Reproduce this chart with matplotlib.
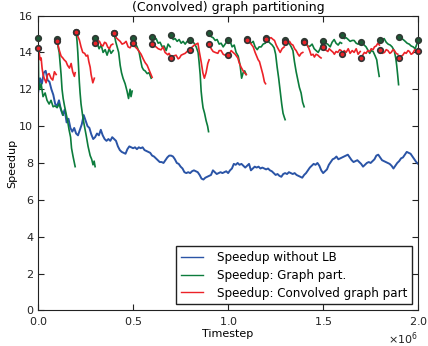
import numpy as np
import matplotlib
matplotlib.use("Agg")
import matplotlib.pyplot as plt

# timesteps in units of 1e6
lb_events = [0.0, 0.1, 0.2, 0.3, 0.4, 0.5, 0.6, 0.7, 0.8, 0.9, 1.0,
             1.1, 1.2, 1.3, 1.4, 1.5, 1.6, 1.7, 1.8, 1.9, 2.0]

# speedup without LB, sampled every 0.01e6 timesteps
no_lb_step = 0.01
no_lb = [11.8, 12.6, 12.3, 12.9, 13.0, 12.5, 12.4, 12.0, 11.7, 11.2,
         11.1, 11.4, 10.9, 10.6, 10.9, 10.2, 10.4, 9.9, 9.7, 9.9,
         9.6, 9.5, 9.8, 10.1, 10.6, 10.3, 10.0, 9.9, 9.55, 9.3,
         9.4, 9.6, 9.5, 9.8, 9.5, 9.3, 9.2, 9.3, 9.2, 9.4,
         9.3, 9.2, 8.9, 8.7, 8.6, 8.55, 8.5, 8.75, 8.9, 8.85,
         8.8, 8.85, 8.75, 8.85, 8.8, 8.85, 8.7, 8.65, 8.6, 8.55,
         8.4, 8.35, 8.25, 8.15, 8.05, 8.05, 8.0, 8.15, 8.3, 8.4,
         8.4, 8.35, 8.2, 8.0, 7.95, 7.8, 7.7, 7.5, 7.45, 7.5,
         7.45, 7.55, 7.6, 7.55, 7.5, 7.35, 7.15, 7.1, 7.2, 7.25,
         7.3, 7.35, 7.6, 7.5, 7.4, 7.45, 7.5, 7.45, 7.5, 7.55,
         7.45, 7.6, 7.7, 7.95, 7.9, 8.0, 7.9, 7.95, 7.85, 7.75,
         7.85, 7.95, 7.6, 7.7, 7.8, 7.75, 7.8, 7.7, 7.75, 7.7,
         7.65, 7.7, 7.6, 7.55, 7.45, 7.35, 7.4, 7.3, 7.25, 7.4,
         7.45, 7.4, 7.5, 7.45, 7.4, 7.45, 7.35, 7.3, 7.25, 7.2,
         7.35, 7.45, 7.6, 7.75, 7.85, 7.95, 7.9, 8.0, 7.85, 7.6,
         7.45, 7.55, 7.65, 7.9, 8.05, 8.2, 8.25, 8.35, 8.2, 8.25,
         8.3, 8.35, 8.4, 8.45, 8.3, 8.15, 8.05, 8.1, 8.15, 8.05,
         7.95, 7.8, 7.9, 8.0, 8.05, 8.0, 8.1, 8.2, 8.4, 8.45,
         8.3, 8.15, 8.1, 8.05, 8.0, 7.95, 7.85, 7.7, 7.85, 8.0,
         8.1, 8.25, 8.3, 8.45, 8.6, 8.55, 8.5, 8.35, 8.2, 8.05,
         7.95]

# graph partitioning: one run per LB event (x in 1e6 timesteps, speedup)
graph_x = [
    [0, 0.003, 0.008, 0.016, 0.026, 0.037, 0.047, 0.058, 0.068, 0.079, 0.089, 0.1, 0.111, 0.121, 0.132],
    [0.1, 0.105, 0.111, 0.116, 0.121, 0.126, 0.132, 0.139, 0.147, 0.155, 0.163, 0.171, 0.176, 0.184, 0.189, 0.195],
    [0.2, 0.205, 0.209, 0.213, 0.217, 0.221, 0.226, 0.234, 0.242, 0.253, 0.263, 0.274, 0.282, 0.289, 0.295, 0.3],
    [0.3, 0.311, 0.321, 0.332, 0.342, 0.353, 0.363, 0.374, 0.384, 0.395],
    [0.4, 0.408, 0.416, 0.424, 0.432, 0.439, 0.447, 0.458, 0.468, 0.476, 0.484, 0.489, 0.495],
    [0.5, 0.511, 0.521, 0.532, 0.539, 0.547, 0.555, 0.563, 0.574, 0.584, 0.595],
    [0.6, 0.611, 0.621, 0.632, 0.642, 0.653, 0.663, 0.674, 0.684, 0.695],
    [0.7, 0.711, 0.721, 0.732, 0.742, 0.753, 0.763, 0.774, 0.784, 0.795],
    [0.8, 0.811, 0.821, 0.832, 0.842, 0.847, 0.853, 0.858, 0.863, 0.868, 0.876, 0.884, 0.892, 0.897],
    [0.9, 0.911, 0.921, 0.932, 0.942, 0.953, 0.963, 0.974, 0.984, 0.995],
    [1.0, 1.011, 1.021, 1.032, 1.042, 1.053, 1.063, 1.071, 1.079, 1.087, 1.095],
    [1.1, 1.111, 1.121, 1.132, 1.142, 1.153, 1.163, 1.174, 1.184, 1.195],
    [1.2, 1.211, 1.221, 1.232, 1.242, 1.25, 1.258, 1.266, 1.274, 1.282, 1.289, 1.295, 1.3],
    [1.3, 1.311, 1.321, 1.332, 1.341, 1.349, 1.358, 1.367, 1.375, 1.384, 1.392, 1.4],
    [1.4, 1.411, 1.421, 1.432, 1.442, 1.453, 1.463, 1.474, 1.484, 1.495],
    [1.5, 1.511, 1.524, 1.537, 1.547, 1.558, 1.568, 1.579, 1.589, 1.597],
    [1.6, 1.611, 1.621, 1.632, 1.642, 1.653, 1.663, 1.674, 1.684, 1.695],
    [1.7, 1.711, 1.726, 1.737, 1.745, 1.753, 1.763, 1.774, 1.782, 1.788, 1.795],
    [1.8, 1.811, 1.821, 1.832, 1.842, 1.853, 1.863, 1.874, 1.882, 1.887, 1.892, 1.897],
    [1.9, 1.911, 1.921, 1.932, 1.942, 1.953, 1.963, 1.974, 1.984, 1.995],
    [2.0],
]
graph_y = [
    [14.77, 12.4, 12.0, 12.3, 11.6, 11.8, 11.4, 11.2, 11.4, 11.05, 11.1, 11.0, 11.2, 10.9, 10.6],
    [14.73, 14.3, 14.0, 13.4, 12.8, 12.0, 11.5, 11.1, 10.7, 10.3, 9.8, 9.4, 8.8, 8.35, 8.1, 7.8],
    [15.13, 14.6, 14.0, 13.2, 12.4, 11.8, 11.2, 10.6, 10.1, 9.5, 8.9, 8.4, 8.2, 7.9, 8.1, 7.8],
    [14.77, 14.5, 14.2, 14.4, 14.0, 14.15, 13.85, 14.2, 13.95, 14.1],
    [15.04, 14.6, 14.3, 14.0, 13.3, 12.9, 12.6, 12.3, 11.9, 11.5, 12.0, 11.6, 11.9],
    [14.77, 14.5, 14.3, 14.0, 13.6, 13.2, 13.05, 13.0, 12.85, 12.9, 12.6],
    [14.86, 14.7, 14.75, 14.5, 14.55, 14.3, 14.35, 14.1, 14.45, 14.3],
    [14.92, 14.7, 14.75, 14.6, 14.7, 14.5, 14.6, 14.45, 14.6, 14.55],
    [14.68, 14.6, 14.5, 14.3, 14.0, 13.5, 12.8, 11.9, 11.4, 11.0, 10.7, 10.3, 10.0, 9.7],
    [15.04, 14.85, 14.8, 14.65, 14.7, 14.45, 14.5, 14.3, 14.45, 14.6],
    [14.68, 14.6, 14.3, 14.4, 14.0, 13.8, 13.3, 12.6, 12.9, 13.0, 12.8],
    [14.73, 14.55, 14.5, 14.6, 14.3, 14.15, 14.3, 14.3, 14.45, 14.5],
    [14.77, 14.6, 14.5, 14.4, 14.25, 13.9, 13.2, 12.6, 11.9, 11.2, 10.7, 10.5, 10.35],
    [14.68, 14.6, 14.5, 14.3, 14.1, 13.5, 12.95, 12.5, 12.1, 11.8, 11.3, 11.05],
    [14.6, 14.5, 14.3, 14.35, 14.45, 14.2, 14.1, 14.0, 14.2, 14.5],
    [14.63, 14.5, 14.45, 14.3, 14.55, 14.7, 14.5, 14.4, 14.55, 14.5],
    [14.92, 14.75, 14.8, 14.7, 14.6, 14.65, 14.65, 14.5, 14.45, 14.55],
    [14.59, 14.45, 14.3, 14.1, 13.95, 14.1, 14.05, 13.8, 13.6, 13.15, 12.7],
    [14.68, 14.7, 14.75, 14.55, 14.45, 14.4, 14.3, 14.1, 13.7, 13.3, 12.8, 12.25],
    [14.86, 14.75, 14.7, 14.6, 14.5, 14.45, 14.35, 14.3, 14.2, 14.5],
    [14.68],
]

# convolved graph partitioning
conv_x = [
    [0, 0.005, 0.011, 0.016, 0.021, 0.026, 0.032, 0.042, 0.05, 0.058, 0.068, 0.077, 0.086, 0.095],
    [0.1, 0.105, 0.112, 0.121, 0.13, 0.137, 0.147, 0.155, 0.165, 0.174, 0.182, 0.191, 0.195],
    [0.2, 0.208, 0.217, 0.226, 0.235, 0.245, 0.253, 0.261, 0.267, 0.274, 0.279, 0.288, 0.296],
    [0.3, 0.311, 0.323, 0.332, 0.341, 0.35, 0.358, 0.366, 0.375, 0.384, 0.393],
    [0.4, 0.411, 0.421, 0.432, 0.442, 0.453, 0.463, 0.474, 0.484, 0.495],
    [0.5, 0.511, 0.521, 0.532, 0.542, 0.553, 0.563, 0.574, 0.584, 0.592, 0.6],
    [0.6, 0.611, 0.621, 0.632, 0.647, 0.658, 0.668, 0.683, 0.689, 0.697],
    [0.7, 0.711, 0.726, 0.737, 0.744, 0.753, 0.763, 0.774, 0.784, 0.795],
    [0.8, 0.811, 0.823, 0.832, 0.841, 0.849, 0.858, 0.867, 0.875, 0.884, 0.893, 0.9],
    [0.9, 0.911, 0.921, 0.932, 0.946, 0.953, 0.963, 0.974, 0.984, 0.995],
    [1.0, 1.011, 1.016, 1.026, 1.037, 1.051, 1.058, 1.068, 1.079, 1.086, 1.095],
    [1.1, 1.111, 1.121, 1.132, 1.142, 1.15, 1.158, 1.165, 1.174, 1.183, 1.191, 1.197],
    [1.2, 1.211, 1.226, 1.237, 1.244, 1.253, 1.263, 1.274, 1.284, 1.295],
    [1.3, 1.311, 1.323, 1.332, 1.341, 1.35, 1.358, 1.368, 1.375, 1.384, 1.393],
    [1.4, 1.411, 1.42, 1.429, 1.437, 1.447, 1.454, 1.463, 1.472, 1.482, 1.489],
    [1.5, 1.511, 1.525, 1.532, 1.542, 1.553, 1.559, 1.568, 1.577, 1.587, 1.595],
    [1.6, 1.611, 1.621, 1.632, 1.642, 1.653, 1.663, 1.674, 1.684, 1.695],
    [1.7, 1.708, 1.717, 1.726, 1.735, 1.745, 1.753, 1.763, 1.77, 1.779, 1.788, 1.796],
    [1.8, 1.811, 1.823, 1.832, 1.841, 1.851, 1.858, 1.868, 1.875, 1.884, 1.893],
    [1.9, 1.911, 1.919, 1.929, 1.937, 1.947, 1.954, 1.963, 1.972, 1.982, 1.989, 2.0],
    [2.0],
]
conv_y = [
    [14.26, 14.0, 13.6, 13.7, 13.15, 12.8, 12.6, 12.35, 12.8, 12.85, 12.6, 12.5, 12.95, 12.8],
    [14.6, 14.4, 14.1, 13.8, 13.7, 13.6, 13.5, 13.3, 13.15, 13.4, 12.95, 12.7, 12.9],
    [15.13, 14.9, 14.68, 14.3, 14.0, 13.95, 13.8, 13.85, 13.5, 13.2, 12.8, 12.35, 12.6],
    [14.5, 14.65, 14.6, 14.4, 14.35, 14.55, 14.5, 14.3, 14.2, 14.4, 14.45],
    [15.04, 14.8, 14.7, 14.6, 14.45, 14.5, 14.6, 14.3, 14.25, 14.45],
    [14.5, 14.3, 14.2, 14.05, 13.9, 13.65, 13.45, 13.3, 13.05, 12.85, 12.65],
    [14.45, 14.35, 14.3, 14.2, 14.14, 14.3, 14.0, 13.87, 13.95, 13.8],
    [13.69, 13.8, 13.85, 13.65, 13.7, 13.85, 13.9, 13.95, 14.05, 14.1],
    [14.14, 14.3, 14.4, 14.45, 14.5, 14.0, 13.5, 12.9, 12.6, 12.9, 13.4, 13.6],
    [14.45, 14.2, 14.05, 14.0, 13.95, 14.1, 14.1, 13.9, 13.85, 13.9],
    [13.87, 14.0, 14.1, 14.0, 13.9, 13.7, 13.45, 13.2, 13.0, 12.9, 12.8],
    [14.65, 14.6, 14.45, 14.3, 14.0, 13.8, 13.6, 13.5, 13.15, 12.8, 12.4, 12.3],
    [14.73, 14.75, 14.8, 14.7, 14.65, 14.4, 14.2, 14.0, 14.2, 14.3],
    [14.59, 14.5, 14.6, 14.45, 14.4, 14.2, 14.1, 13.9, 13.8, 13.95, 14.0],
    [14.55, 14.45, 14.35, 14.1, 13.85, 13.9, 13.75, 13.9, 13.85, 13.75, 13.7],
    [14.3, 14.15, 14.05, 14.2, 14.1, 14.0, 13.9, 14.05, 14.0, 14.15, 14.1],
    [13.9, 14.1, 14.0, 14.2, 13.95, 14.1, 14.0, 14.2, 13.9, 14.05],
    [13.69, 13.85, 14.0, 13.95, 14.1, 14.05, 14.2, 14.15, 14.3, 14.35, 14.5, 14.4],
    [14.14, 13.95, 14.0, 14.15, 14.1, 13.95, 14.0, 14.15, 14.1, 13.95, 13.9],
    [13.69, 13.8, 13.85, 14.0, 13.95, 14.1, 14.05, 13.9, 13.95, 14.15, 14.1, 14.0],
    [14.05],
]

blue = "#2a54a6"
green = "#0c7c3c"
red = "#ec2228"

plt.rcParams["font.family"] = "DejaVu Sans"
fig = plt.figure(figsize=(4.28, 3.46), dpi=100, facecolor="white")
ax = fig.add_axes([0.089, 0.103, 0.888, 0.852])

t_nolb = np.arange(len(no_lb)) * no_lb_step * 1e6
ax.plot(t_nolb, no_lb, color=blue, lw=1.4, label="Speedup without LB")

for i, (xs, ys) in enumerate(zip(graph_x, graph_y)):
    ax.plot(np.array(xs) * 1e6, ys, color=green, lw=1.2,
            label="Speedup: Graph part." if i == 0 else None)
for i, (xs, ys) in enumerate(zip(conv_x, conv_y)):
    ax.plot(np.array(xs) * 1e6, ys, color=red, lw=1.2,
            label="Speedup: Convolved graph part" if i == 0 else None)

ax.plot([x[0] * 1e6 for x in graph_x], [y[0] for y in graph_y], "o", ms=4,
        mfc="#1d5a36", mec="#2e3a33", mew=1.2, clip_on=False, zorder=5)
ax.plot([x[0] * 1e6 for x in conv_x], [y[0] for y in conv_y], "o", ms=4,
        mfc=red, mec="#333333", mew=1.2, clip_on=False, zorder=5)

ax.set_xlim(0, 2.0e6)
ax.set_ylim(0, 16)
ax.set_xticks([0, 0.5e6, 1.0e6, 1.5e6, 2.0e6])
ax.set_yticks(range(0, 17, 2))
ax.ticklabel_format(axis="x", style="sci", scilimits=(0, 0), useMathText=True)
ax.tick_params(direction="in", top=True, right=True, length=4, labelsize=8, colors="#222222")
ax.tick_params(axis="x", pad=3)
for s in ax.spines.values():
    s.set_color("#222222")
ax.xaxis.get_offset_text().set_fontsize(8)
ax.set_title("(Convolved) graph partitioning", fontsize=9, pad=3)
ax.set_xlabel("Timestep", fontsize=8, labelpad=2)
ax.set_ylabel("Speedup", fontsize=8, labelpad=1)

leg = ax.legend(loc="lower right", fontsize=8.6, fancybox=False, framealpha=1,
                edgecolor="#222222", handlelength=1.8, handletextpad=1.2,
                labelspacing=0.4, borderaxespad=0.5)
for h in leg.get_lines():
    h.set_linewidth(1.0)

fig.savefig("out.png", dpi=100, facecolor="white")
